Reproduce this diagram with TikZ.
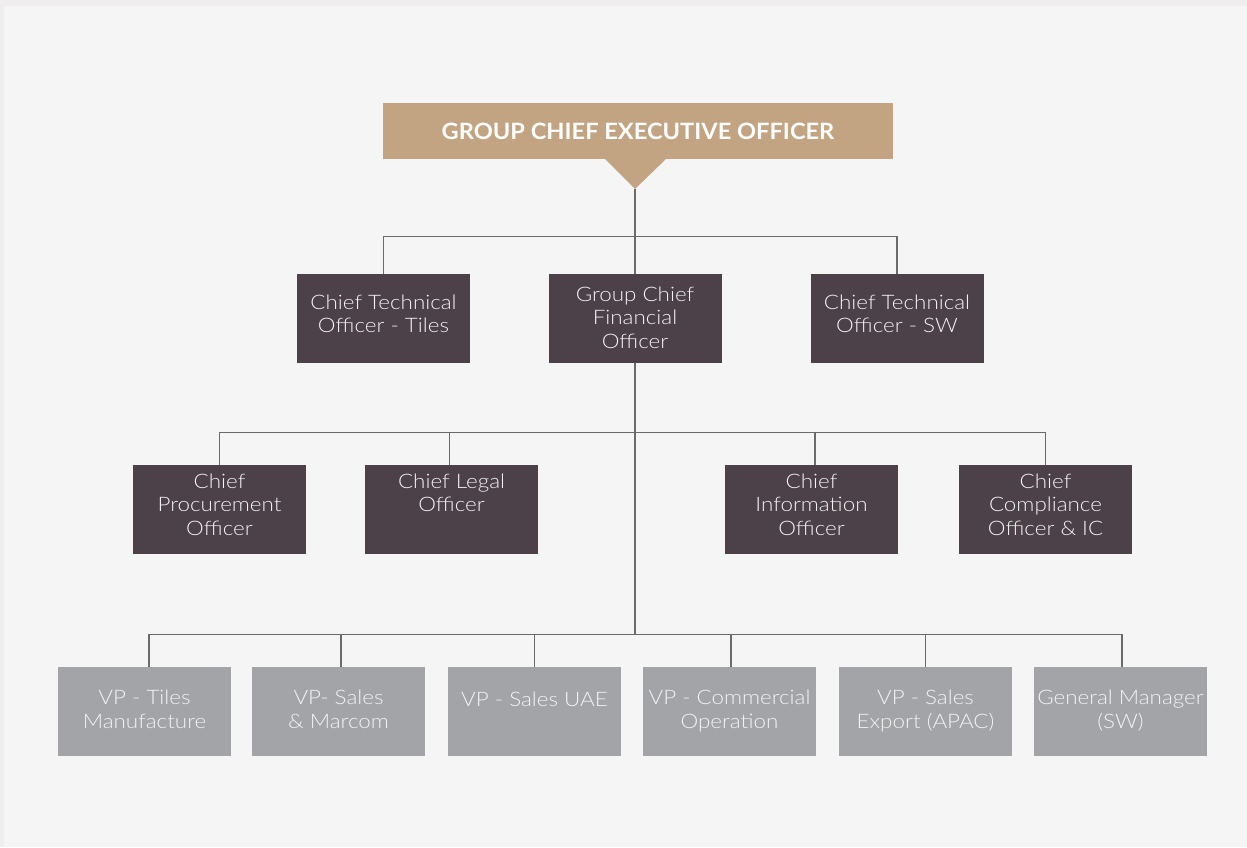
\documentclass[tikz,border=0pt]{standalone}
\usepackage{fontspec}
\setmainfont{Lato}
\newfontfamily\lightfont[FakeStretch=1.12]{Lato Light}
\newfontfamily\ceofont[FakeStretch=1.05]{Lato Bold}
\definecolor{outerbg}{HTML}{EFEDED}
\definecolor{innerbg}{HTML}{F5F5F5}
\definecolor{tanc}{HTML}{C2A482}
\definecolor{darkc}{HTML}{4C4148}
\definecolor{greyc}{HTML}{A3A4A7}
\definecolor{linec}{HTML}{6A6A6A}
\definecolor{txtc}{HTML}{F3F3F3}
\tikzset{
  conn/.style={draw=linec, line width=1.1pt},
  darkbox/.style={fill=darkc, draw=none, minimum width=173pt, minimum height=89pt, inner sep=0pt},
  greybox/.style={fill=greyc, draw=none, minimum width=173pt, minimum height=89pt, inner sep=0pt},
  btext/.style={anchor=north, align=center, inner sep=0pt, text=txtc,
    font=\lightfont\fontsize{20}{23.6}\selectfont,
    execute at begin node={\rule{0pt}{16pt}}},
}
\begin{document}
\begin{tikzpicture}[x=1pt,y=-1pt]
\useasboundingbox (0,0) rectangle (1247,847);
\fill[outerbg] (0,0) rectangle (1247,847);
\fill[innerbg] (4,6) rectangle (1247,847);

% CEO
\fill[tanc] (604,158) -- (667,158) -- (635,189) -- cycle;
\node[fill=tanc, minimum width=510pt, minimum height=56pt, inner sep=0pt,
      text=white, font=\ceofont\fontsize{22.5}{26}\selectfont] (ceo) at (638,131) {GROUP CHIEF EXECUTIVE OFFICER};
\coordinate (tip) at (635,189);

% Level 2
\node[darkbox] (ctot) at (383.5,318.5) {};
\node[darkbox] (cfo) at (635,318.5) {};
\node[darkbox] (ctosw) at (897,318.5) {};
\node[btext, yshift=-20.5pt] (ctott) at (ctot.north) {Chief Technical\\Officer - Tiles};
\node[btext, yshift=-12.5pt] (cfot) at (cfo.north) {Group Chief\\Financial\\Officer};
\node[btext, yshift=-20.5pt] (ctoswt) at (ctosw.north) {Chief Technical\\Officer - SW};

% Level 3
\node[darkbox] (cpo) at (219.5,509.5) {};
\node[darkbox] (clo) at (451.5,509.5) {};
\node[darkbox] (cio) at (811.5,509.5) {};
\node[darkbox] (cco) at (1045.5,509.5) {};
\node[btext, yshift=-8.5pt] (cpot) at (cpo.north) {Chief\\Procurement\\Officer};
\node[btext, yshift=-8.5pt] (clot) at (clo.north) {Chief Legal\\Officer};
\node[btext, yshift=-8.5pt] (ciot) at (cio.north) {Chief\\Information\\Officer};
\node[btext, yshift=-8.5pt] (ccot) at (cco.north) {Chief\\Compliance\\Officer \& IC};

% Level 4
\node[greybox] (vp1) at (144.5,711.5) {};
\node[greybox] (vp2) at (338.5,711.5) {};
\node[greybox] (vp3) at (534.5,711.5) {};
\node[greybox] (vp4) at (729.5,711.5) {};
\node[greybox] (vp5) at (925.5,711.5) {};
\node[greybox] (vp6) at (1120.5,711.5) {};
\node[btext, yshift=-23pt] (vp1t) at (vp1.north) {VP - Tiles\\Manufacture};
\node[btext, yshift=-23pt] (vp2t) at (vp2.north) {VP- Sales\\\& Marcom};
\node[btext, yshift=-23pt] (vp3t) at (vp3.north) {VP - Sales UAE};
\node[btext, yshift=-23pt] (vp4t) at (vp4.north) {VP - Commercial\\Operation};
\node[btext, yshift=-23pt] (vp5t) at (vp5.north) {VP - Sales\\Export (APAC)};
\node[btext, yshift=-23pt] (vp6t) at (vp6.north) {General Manager\\(SW)};

% Connectors
\coordinate (bus3) at (635,433);
\coordinate (bus4) at (635,635);
\draw[conn] (tip) -- (cfo.north);
\draw[conn] (ctot.north) -- ++(0,-37) -| (ctosw.north);
\draw[conn] (cfo.south) -- (bus4);
\draw[conn] (cpo.north) -- ++(0,-32) -| (cco.north);
\draw[conn] ([xshift=-2pt]clo.north) -- ([xshift=-2pt]clo.north |- bus3);
\draw[conn] ([xshift=3.5pt]cio.north) -- ([xshift=3.5pt]cio.north |- bus3);
\draw[conn] ([xshift=4.5pt]vp1.north) -- ++(0,-32) -| ([xshift=1.5pt]vp6.north);
\draw[conn] ([xshift=2.5pt]vp2.north) -- ([xshift=2.5pt]vp2.north |- bus4);
\draw[conn] (vp3.north) -- (vp3.north |- bus4);
\draw[conn] ([xshift=1.5pt]vp4.north) -- ([xshift=1.5pt]vp4.north |- bus4);
\draw[conn] (vp5.north) -- (vp5.north |- bus4);
\end{tikzpicture}
\end{document}
